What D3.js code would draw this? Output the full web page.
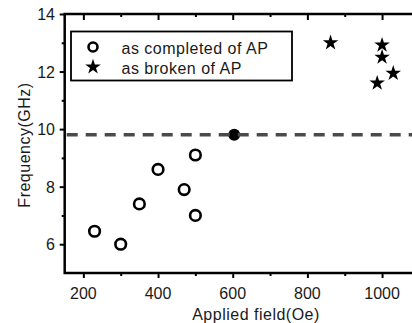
<!DOCTYPE html>
<html><head><meta charset="utf-8">
<script src="https://cdn.jsdelivr.net/npm/d3@7"></script>
<style>
body{margin:0;background:#fff;}
svg{display:block;}
text{font-family:"Liberation Sans",Arial,sans-serif;fill:#1a1a1a;}
</style></head>
<body>
<svg id="c" width="412" height="323"></svg>
<script>
// ---- data ----
const completedField = [230, 300, 350, 400, 470, 500, 500];
const completedFreq  = [6.45, 6.0, 7.4, 8.6, 7.9, 7.0, 9.1];
const resonanceField = [604];
const resonanceFreq  = [9.8];
const brokenField = [862, 1000, 1000, 987, 1030];
const brokenFreq  = [13.0, 12.92, 12.5, 11.6, 11.94];
const thresholdFreq = [9.8];
const xMajorTicks = [200, 400, 600, 800, 1000];
const xMinorTicks = [300, 500, 700, 900];
const yMajorTicks = [6, 8, 10, 12, 14];
const yMinorTicks = [7, 9, 11, 13];
const legendLabels = ["as completed of AP", "as broken of AP"];
const xTitle = "Applied field(Oe)";
const yTitle = "Frequency(GHz)";

const svg = d3.select("#c");
const x = d3.scaleLinear().domain([150, 1100]).range([64.7, 419.4]);
const y = d3.scaleLinear().domain([5, 14]).range([273, 14]);

// axes ticks
function styleAxis(g){ g.select(".domain").remove(); g.selectAll("line").attr("stroke","#000").attr("stroke-width",2); g.selectAll("text").remove(); }
svg.append("g").attr("transform",`translate(0,${y(5)})`).call(d3.axisBottom(x).tickValues(xMajorTicks).tickSize(5)).call(styleAxis);
svg.append("g").attr("transform",`translate(0,${y(5)})`).call(d3.axisBottom(x).tickValues(xMinorTicks).tickSize(3)).call(styleAxis);
svg.append("g").attr("transform",`translate(0,${y(14)})`).call(d3.axisBottom(x).tickValues(xMajorTicks).tickSize(6)).call(styleAxis);
svg.append("g").attr("transform",`translate(0,${y(14)})`).call(d3.axisBottom(x).tickValues(xMinorTicks).tickSize(3)).call(styleAxis);
svg.append("g").attr("transform",`translate(${x(150)},0)`).call(d3.axisLeft(y).tickValues(yMajorTicks).tickSize(5)).call(styleAxis);
svg.append("g").attr("transform",`translate(${x(150)},0)`).call(d3.axisLeft(y).tickValues(yMinorTicks).tickSize(3)).call(styleAxis);

// frame
svg.append("path")
  .attr("d",`M${x(1100)},${y(14)}H${x(150)}V${y(5)}H${x(1100)}`)
  .attr("fill","none").attr("stroke","#000").attr("stroke-width",2.5);

// tick labels
svg.selectAll(".xl").data(xMajorTicks).join("text")
  .attr("x",d=>x(d)).attr("y",299).attr("text-anchor","middle")
  .attr("font-size",16).text(d=>d);
svg.selectAll(".yl").data(yMajorTicks).join("text")
  .attr("x",55).attr("y",d=>y(d)+6).attr("text-anchor","end")
  .attr("font-size",16).text(d=>d);

// titles
svg.append("text").attr("x",256).attr("y",320).attr("text-anchor","middle")
  .attr("font-size",16).attr("letter-spacing",0.5).text(xTitle);
svg.append("text").attr("transform","translate(30,145) rotate(-90)").attr("text-anchor","middle")
  .attr("font-size",16).attr("letter-spacing",0.5).text(yTitle);

// resonance filled point
svg.selectAll(".res").data(resonanceField).join("circle")
  .attr("cx",d=>x(d)).attr("cy",(d,i)=>y(resonanceFreq[i])).attr("r",6).attr("fill","#000");

// dashed line
svg.selectAll(".thr").data(thresholdFreq).join("line")
  .attr("x1",x(150)+2).attr("x2",x(1100)).attr("y1",d=>y(d)).attr("y2",d=>y(d))
  .attr("stroke","#4a4a4a").attr("stroke-width",3.5).attr("stroke-dasharray","11,8");

// completed points
svg.selectAll(".cp").data(completedField).join("circle")
  .attr("cx",d=>x(d)).attr("cy",(d,i)=>y(completedFreq[i])).attr("r",5.3)
  .attr("fill","#fff").attr("stroke","#000").attr("stroke-width",2.6);

// broken points
const star = d3.symbol().type(d3.symbolStar).size(75);
svg.selectAll(".bp").data(brokenField).join("path")
  .attr("transform",(d,i)=>`translate(${x(d)},${y(brokenFreq[i])})`)
  .attr("d",star).attr("fill","#000");

// legend
svg.append("rect").attr("x",71).attr("y",31.5).attr("width",221).attr("height",49)
  .attr("fill","#fff").attr("stroke","#000").attr("stroke-width",1.8);
svg.append("circle").attr("cx",93).attr("cy",47).attr("r",4.5)
  .attr("fill","#fff").attr("stroke","#000").attr("stroke-width",2.6);
svg.append("path").attr("transform","translate(93,67)").attr("d",star).attr("fill","#000");
svg.selectAll(".lg").data(legendLabels).join("text")
  .attr("x",121.5).attr("y",(d,i)=>54+i*20).attr("font-size",16).attr("letter-spacing",0.5).text(d=>d);
</script>
</body></html>
